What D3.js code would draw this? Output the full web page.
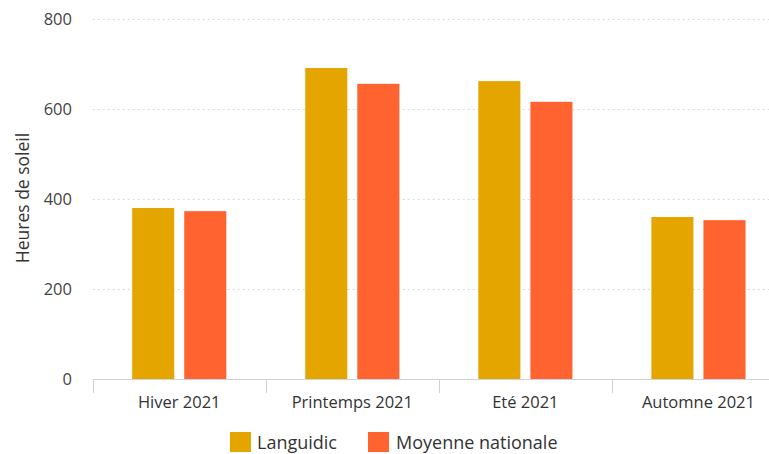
<!DOCTYPE html>
<html><head><meta charset="utf-8">
<script src="https://cdn.jsdelivr.net/npm/d3@7"></script>
<style>
html,body{margin:0;padding:0;background:#fff;}
svg{display:block;font-family:"Open Sans","Noto Sans",sans-serif;}
</style></head>
<body>
<svg id="chart" width="769" height="454"></svg>
<script>
const categories = ["Hiver 2021", "Printemps 2021", "Eté 2021", "Automne 2021"];
const seriesNames = ["Languidic", "Moyenne nationale"];
const languidic = [380, 691, 662, 360];
const moyenne = [373, 656, 616, 353];
const yTicks = [0, 200, 400, 600, 800];
const colors = ["#E5A500", "#FF6330"];

(function () {
const svg = d3.select("#chart");
const mLeft = 92.7, mRight = 785, mTop = 19, mBottom = 379;

const x0 = d3.scaleBand().domain(categories).range([mLeft, mRight]).padding(0);
const bw = x0.bandwidth();
const x1 = d3.scaleBand().domain(seriesNames).range([bw * 0.228, bw * 0.772]).paddingInner(0.192);
const y = d3.scaleLinear().domain([0, 800]).range([mBottom, mTop]);

// gridlines
svg.append("g").selectAll("line").data(yTicks.filter(d => d > 0)).join("line")
  .attr("x1", mLeft).attr("x2", 769)
  .attr("y1", d => Math.round(y(d)) + 0.5).attr("y2", d => Math.round(y(d)) + 0.5)
  .attr("stroke", "#d9d9d9").attr("stroke-width", 1).attr("stroke-dasharray", "2,3");

// y tick labels
const yAxis = d3.axisLeft(y).tickValues(yTicks).tickSize(0).tickPadding(0);
const gy = svg.append("g").attr("transform", `translate(72,0)`).call(yAxis);
gy.select(".domain").remove();
gy.selectAll("text").attr("font-size", 16.5).attr("fill", "#444").attr("font-family", "'Open Sans','Noto Sans',sans-serif");

// y title
svg.append("text").attr("transform", `translate(29,198) rotate(-90)`)
  .attr("text-anchor", "middle").attr("font-size", 17.5).attr("fill", "#333")
  .text("Heures de soleil");

// bars
const data = categories.map((c, i) => ({cat: c, vals: [languidic[i], moyenne[i]]}));
const groups = svg.append("g").selectAll("g").data(data).join("g")
  .attr("transform", d => `translate(${x0(d.cat)},0)`);
groups.selectAll("rect").data(d => d.vals.map((v, j) => ({name: seriesNames[j], v, j}))).join("rect")
  .attr("x", d => x1(d.name)).attr("width", x1.bandwidth())
  .attr("y", d => y(d.v)).attr("height", d => y(0) - y(d.v))
  .attr("fill", d => colors[d.j]);

// x axis
const boundaries = categories.map(c => x0(c)).concat([mRight]);
const gx = svg.append("g");
gx.append("line").attr("x1", mLeft).attr("x2", mRight).attr("y1", mBottom + 0.5).attr("y2", mBottom + 0.5)
  .attr("stroke", "#ccd3dc").attr("stroke-width", 1);
gx.selectAll("line.tk").data(boundaries).join("line").attr("class", "tk")
  .attr("x1", d => Math.round(d) + 0.5).attr("x2", d => Math.round(d) + 0.5)
  .attr("y1", mBottom).attr("y2", mBottom + 14)
  .attr("stroke", "#ccd3dc").attr("stroke-width", 1);
gx.selectAll("text").data(categories).join("text")
  .attr("x", d => x0(d) + bw / 2).attr("y", 408)
  .attr("text-anchor", "middle").attr("font-size", 16.5).attr("fill", "#333")
  .text(d => d);

// legend
const legendItems = [{name: seriesNames[0], x: 230, tx: 257}, {name: seriesNames[1], x: 368, tx: 396}];
const lg = svg.append("g");
legendItems.forEach((d, i) => {
  lg.append("rect").attr("x", d.x).attr("y", 432).attr("width", 21).attr("height", 20).attr("fill", colors[i]);
  lg.append("text").attr("x", d.tx).attr("y", 448.5).attr("font-size", 18).attr("fill", "#333").text(d.name);
});
})();
</script>
</body></html>
